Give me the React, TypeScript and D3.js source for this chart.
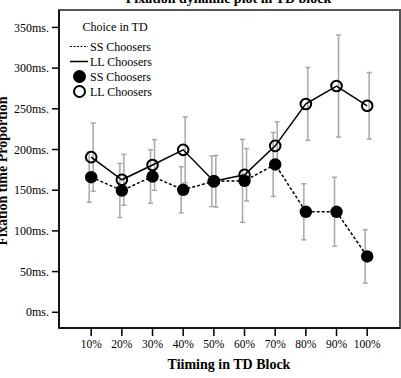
import React from "react";
import * as d3 from "d3";

const categories = ["10%", "20%", "30%", "40%", "50%", "60%", "70%", "80%", "90%", "100%"];
const ssMeans = [166, 149.6, 166.8, 150.5, 161, 161.5, 181.6, 123.5, 123.5, 68.6];
const ssErr = [30.7, 33.2, 32.8, 28.3, 31.1, 51, 39.3, 34.4, 42.4, 32.8];
const llMeans = [190.6, 162.8, 181, 199.6, 161, 169, 204.5, 256, 278, 253.7];
const llErr = [41.8, 31.3, 31.1, 40.5, 31.7, 32.2, 29.5, 44.8, 62.7, 40.9];
const yTicks = [0, 50, 100, 150, 200, 250, 300, 350];

const W = 401;
const H = 378;
const box = { left: 59, right: 400, top: 10, bottom: 328 };
const FONT = "'Liberation Serif', 'Times New Roman', serif";

export default function App() {
  const x = d3.scaleLinear().domain([-1.05, 10.07]).range([box.left, box.right]);
  const y = d3.scaleLinear().domain([-19.3, 371.4]).range([box.bottom, box.top]);
  const idx = categories.map((_, i) => i);
  const line = d3
    .line<number>()
    .x((d, i) => x(i))
    .y((d) => y(d));
  const ERR_COLOR = "#a8a8a8";
  const cap = 2.5;

  const errBars = (means: number[], errs: number[], dx: number, key: string) =>
    means.map((m, i) => {
      const cx = x(i) + dx;
      const y1 = y(m + errs[i]);
      const y2 = y(m - errs[i]);
      return (
        <g key={key + i} stroke={ERR_COLOR} strokeWidth={1.5}>
          <line x1={cx} x2={cx} y1={y1} y2={y2} />
          <line x1={cx - cap} x2={cx + cap} y1={y1} y2={y1} />
          <line x1={cx - cap} x2={cx + cap} y1={y2} y2={y2} />
        </g>
      );
    });

  return (
    <svg
      width={W}
      height={H}
      style={{ position: "absolute", left: 0, top: 0, background: "#fff" }}
      fontFamily={FONT}
    >
      <rect x={0} y={0} width={W} height={H} fill="#fff" />
      {/* title */}
      <text x={228.5} y={3} textAnchor="middle" fontSize={14} fontWeight="bold">
        Fixation dynamic plot in TD block
      </text>
      {/* frame */}
      <rect
        x={box.left}
        y={box.top}
        width={box.right - box.left}
        height={box.bottom - box.top}
        fill="none"
        stroke="#555"
        strokeWidth={2}
      />
      <line x1={box.left} x2={box.left} y1={box.top} y2={box.bottom} stroke="#000" strokeWidth={1.5} />
      <line x1={box.left} x2={box.right} y1={box.bottom} y2={box.bottom} stroke="#000" strokeWidth={1.5} />

      {/* y axis */}
      {yTicks.map((t) => (
        <g key={"yt" + t}>
          <line x1={box.left - 7} x2={box.left} y1={y(t)} y2={y(t)} stroke="#000" strokeWidth={1.5} />
          <text x={box.left - 10} y={y(t)} dy="0.35em" textAnchor="end" fontSize={12}>
            {t + "ms."}
          </text>
        </g>
      ))}
      {/* x axis */}
      {categories.map((c, i) => (
        <g key={"xt" + c}>
          <line x1={x(i)} x2={x(i)} y1={box.bottom} y2={box.bottom + 8} stroke="#000" strokeWidth={1.5} />
          <text x={x(i)} y={348} textAnchor="middle" fontSize={11.5}>
            {c}
          </text>
        </g>
      ))}
      <text x={229} y={369} textAnchor="middle" fontSize={14} fontWeight="bold">
        Tiiming in TD Block
      </text>
      <text
        transform="translate(7,171) rotate(-90)"
        textAnchor="middle"
        fontSize={14}
        fontWeight="bold"
      >
        Fixation time Proportion
      </text>

      {/* error bars */}
      {errBars(ssMeans, ssErr, -2, "sse")}
      {errBars(llMeans, llErr, 2, "lle")}

      {/* lines */}
      <path d={line(llMeans) || ""} fill="none" stroke="#000" strokeWidth={1.5} />
      <path d={line(ssMeans) || ""} fill="none" stroke="#000" strokeWidth={1.5} strokeDasharray="3,2" />

      {/* markers */}
      {llMeans.map((m, i) => (
        <circle key={"llc" + i} cx={x(i)} cy={y(m)} r={5.3} fill="none" stroke="#000" strokeWidth={2} />
      ))}
      {ssMeans.map((m, i) => (
        <circle key={"ssc" + i} cx={x(i)} cy={y(m)} r={6.2} fill="#000" />
      ))}

      {/* legend */}
      <text x={115} y={27} dy="0.35em" textAnchor="middle" fontSize={12}>
        Choice in TD
      </text>
      <line x1={70} x2={88} y1={46.5} y2={46.5} stroke="#000" strokeWidth={1.2} strokeDasharray="2,1.5" />
      <text x={90} y={46.5} dy="0.35em" fontSize={12}>SS Choosers</text>
      <line x1={70} x2={88} y1={61.5} y2={61.5} stroke="#000" strokeWidth={1.5} />
      <text x={90} y={61.5} dy="0.35em" fontSize={12}>LL Choosers</text>
      <circle cx={79.5} cy={76.5} r={6.5} fill="#000" />
      <text x={90} y={76.5} dy="0.35em" fontSize={12}>SS Choosers</text>
      <circle cx={79.5} cy={91.5} r={5.5} fill="none" stroke="#000" strokeWidth={2} />
      <text x={90} y={91.5} dy="0.35em" fontSize={12}>LL Choosers</text>
    </svg>
  );
}
